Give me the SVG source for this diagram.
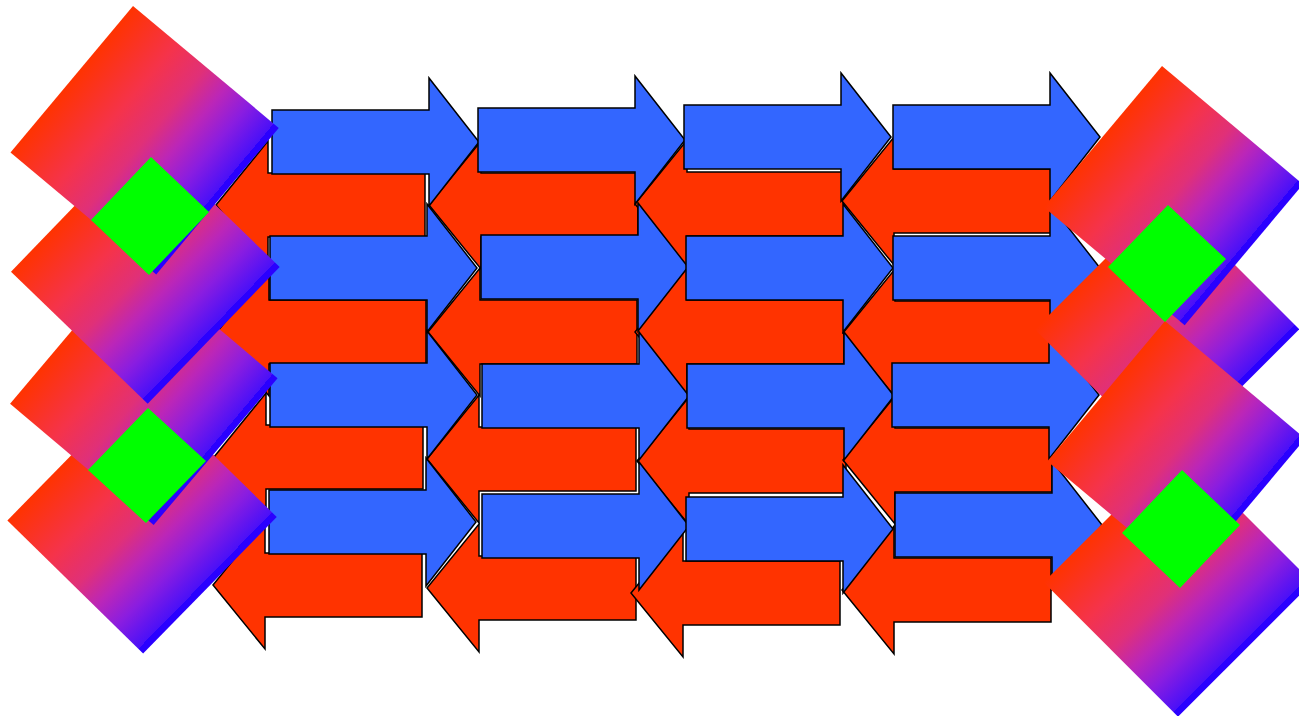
<svg xmlns="http://www.w3.org/2000/svg" xmlns:xlink="http://www.w3.org/1999/xlink" width="1299" height="716" viewBox="0 0 1299 716">
<style>
.b{fill:#3366ff;stroke:#000;stroke-width:1.5;stroke-linejoin:miter}
.r{fill:#ff3300;stroke:#000;stroke-width:1.5;stroke-linejoin:miter}
.d{fill:url(#dg)}
.g{fill:#00ff00}
</style>
<defs>
<path id="ba" d="M0,-32 H157 V-64 L207,0 L157,64 V32 H0 Z"/>
<path id="ra" d="M0,0 L52,-64 V-32 H209 V32 H52 V64 Z"/>
<linearGradient id="dg" x1="0" y1="0" x2="1" y2="0">
<stop offset="0" stop-color="#ff3300"/>
<stop offset="0.3" stop-color="#f5334a"/>
<stop offset="0.5" stop-color="#e03078"/>
<stop offset="0.65" stop-color="#bb26b8"/>
<stop offset="0.8" stop-color="#8a1de0"/>
<stop offset="0.965" stop-color="#4a10f8"/>
<stop offset="0.965" stop-color="#2a00ff"/>
<stop offset="1" stop-color="#2a00ff"/>
</linearGradient>
</defs>
<rect width="1299" height="716" fill="#fff"/>
<g id="red-arrows">
<use xlink:href="#ra" class="r" transform="translate(216,205)"/>
<use xlink:href="#ra" class="r" transform="translate(429,205)"/>
<use xlink:href="#ra" class="r" transform="translate(635,204)"/>
<use xlink:href="#ra" class="r" transform="translate(842,201)"/>
<use xlink:href="#ra" class="r" transform="translate(217,332)"/>
<use xlink:href="#ra" class="r" transform="translate(428,332)"/>
<use xlink:href="#ra" class="r" transform="translate(635,332)"/>
<use xlink:href="#ra" class="r" transform="translate(843,333)"/>
<use xlink:href="#ra" class="r" transform="translate(214,457)"/>
<use xlink:href="#ra" class="r" transform="translate(427,459)"/>
<use xlink:href="#ra" class="r" transform="translate(637,461)"/>
<use xlink:href="#ra" class="r" transform="translate(843,460)"/>
<use xlink:href="#ra" class="r" transform="translate(213,585)"/>
<use xlink:href="#ra" class="r" transform="translate(427,588)"/>
<use xlink:href="#ra" class="r" transform="translate(631,593)"/>
<use xlink:href="#ra" class="r" transform="translate(842,590)"/>
</g>
<g id="blue-arrows">
<use xlink:href="#ba" class="b" transform="translate(272,142)"/>
<use xlink:href="#ba" class="b" transform="translate(478,140)"/>
<use xlink:href="#ba" class="b" transform="translate(684,137)"/>
<use xlink:href="#ba" class="b" transform="translate(893,137)"/>
<use xlink:href="#ba" class="b" transform="translate(270,268)"/>
<use xlink:href="#ba" class="b" transform="translate(481,267)"/>
<use xlink:href="#ba" class="b" transform="translate(686,268)"/>
<use xlink:href="#ba" class="b" transform="translate(893,268)"/>
<use xlink:href="#ba" class="b" transform="translate(270,395)"/>
<use xlink:href="#ba" class="b" transform="translate(482,396)"/>
<use xlink:href="#ba" class="b" transform="translate(687,396)"/>
<use xlink:href="#ba" class="b" transform="translate(892,395)"/>
<use xlink:href="#ba" class="b" transform="translate(269,522)"/>
<use xlink:href="#ba" class="b" transform="translate(482,526)"/>
<use xlink:href="#ba" class="b" transform="translate(686,529)"/>
<use xlink:href="#ba" class="b" transform="translate(895,525)"/>
</g>
<g id="left-stack">
<rect class="d" width="190" height="191" transform="translate(141,384) rotate(44.4)"/>
<rect class="d" width="188" height="192" transform="translate(134,257) rotate(40.2)"/>
<rect class="d" width="190" height="190" transform="translate(143,135) rotate(44)"/>
<rect class="d" width="190" height="191" transform="translate(133,6) rotate(39.9)"/>
<polygon class="g" points="151,157 209,212 149,275 91,220"/>
<polygon class="g" points="148,408 206,461 146,523 88,470"/>
</g>
<g id="right-stack">
<rect class="d" width="190" height="190" transform="translate(1178,448) rotate(45)"/>
<rect class="d" width="187" height="187" transform="translate(1167,197) rotate(45)"/>
<rect class="d" width="183" height="183" transform="translate(1165,321) rotate(40)"/>
<rect class="d" width="184" height="184" transform="translate(1162,66) rotate(40)"/>
<polygon class="g" points="1168,205 1226,259 1165,322 1108,267"/>
<polygon class="g" points="1182,470 1240,525 1180,588 1122,533"/>
</g>
</svg>
